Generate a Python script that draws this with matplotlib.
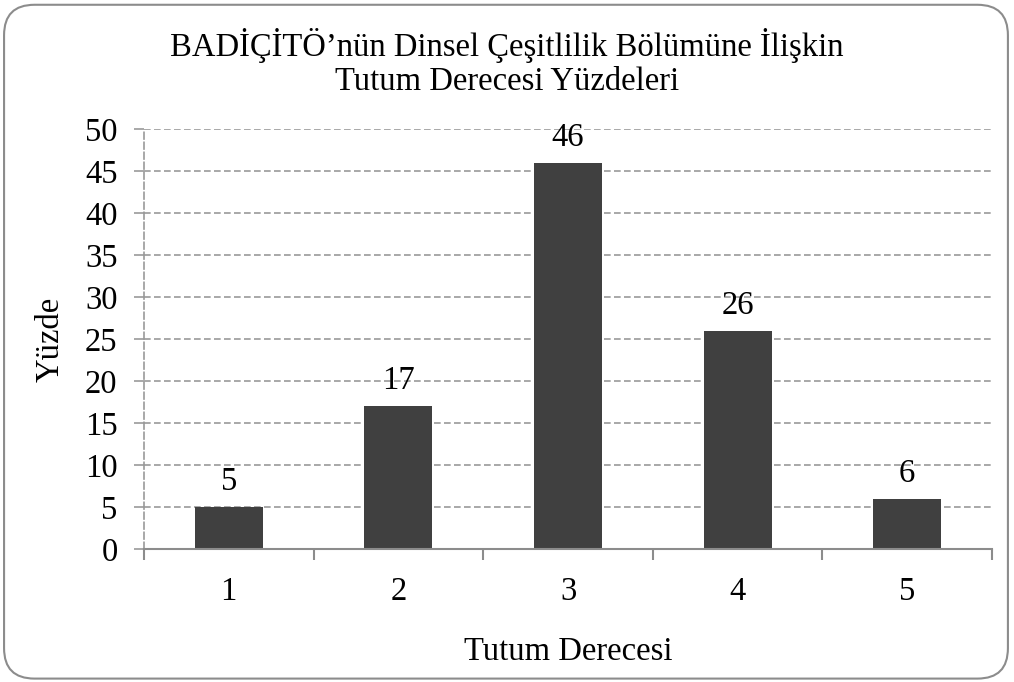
import matplotlib.pyplot as plt
from matplotlib.patches import FancyBboxPatch

categories = ['1', '2', '3', '4', '5']
values = [5, 17, 46, 26, 6]
yticks = [0, 5, 10, 15, 20, 25, 30, 35, 40, 45, 50]

plt.rcParams['font.family'] = ['Liberation Serif', 'DejaVu Serif']
fs = 23.5

fig = plt.figure(figsize=(10.14, 6.82), dpi=100)
ax = fig.add_axes([144 / 1014, 1 - 549 / 682, 848 / 1014, 420 / 682])

# rounded chart border
border = FancyBboxPatch((0.004, 0.005), 0.99, 0.988, boxstyle='round,pad=0,rounding_size=0.03',
                        transform=fig.transFigure, fill=False, edgecolor='#8c8c8c', linewidth=1.5,
                        mutation_aspect=1014 / 682)
fig.patches.append(border)

x = range(len(categories))
bars = ax.bar(x, values, width=0.4, color='#404040')

ax.set_xlim(-0.5, 4.5)
ax.set_ylim(0, 50)
ax.set_yticks(yticks)
ax.set_xticks(x)
ax.set_xticklabels(categories)
ax.set_xticks([i - 0.5 for i in range(len(categories) + 1)], minor=True)

ax.yaxis.grid(True, linestyle=(0, (4, 2)), color='#999999', linewidth=1.2)
ax.set_axisbelow(True)

for s in ['top', 'right']:
    ax.spines[s].set_visible(False)
ax.spines['left'].set_linestyle((0, (4, 2)))
ax.spines['left'].set_color('#999999')
ax.spines['left'].set_linewidth(1.2)
ax.spines['bottom'].set_color('#8c8c8c')
ax.spines['bottom'].set_linewidth(1.5)

ax.tick_params(axis='x', which='major', length=0, pad=20, labelsize=fs)
ax.tick_params(axis='x', which='minor', length=8, color='#8c8c8c', width=1.5)
ax.tick_params(axis='y', length=7, color='#999999', width=1.2, labelsize=fs, pad=12)

for b, v in zip(bars, values):
    ax.annotate(str(v), (b.get_x() + b.get_width() / 2, v), xytext=(0, 7),
                textcoords='offset points', ha='center', va='bottom', fontsize=fs)

ax.set_xlabel('Tutum Derecesi', fontsize=fs, labelpad=21)
ax.set_ylabel('Yüzde', fontsize=fs, labelpad=14)
fig.text(0.5, 0.909, 'BADİÇİTÖ’nün Dinsel Çeşitlilik Bölümüne İlişkin\nTutum Derecesi Yüzdeleri',
         ha='center', va='center', fontsize=fs, linespacing=1.15)

fig.savefig('out.png', dpi=100)
